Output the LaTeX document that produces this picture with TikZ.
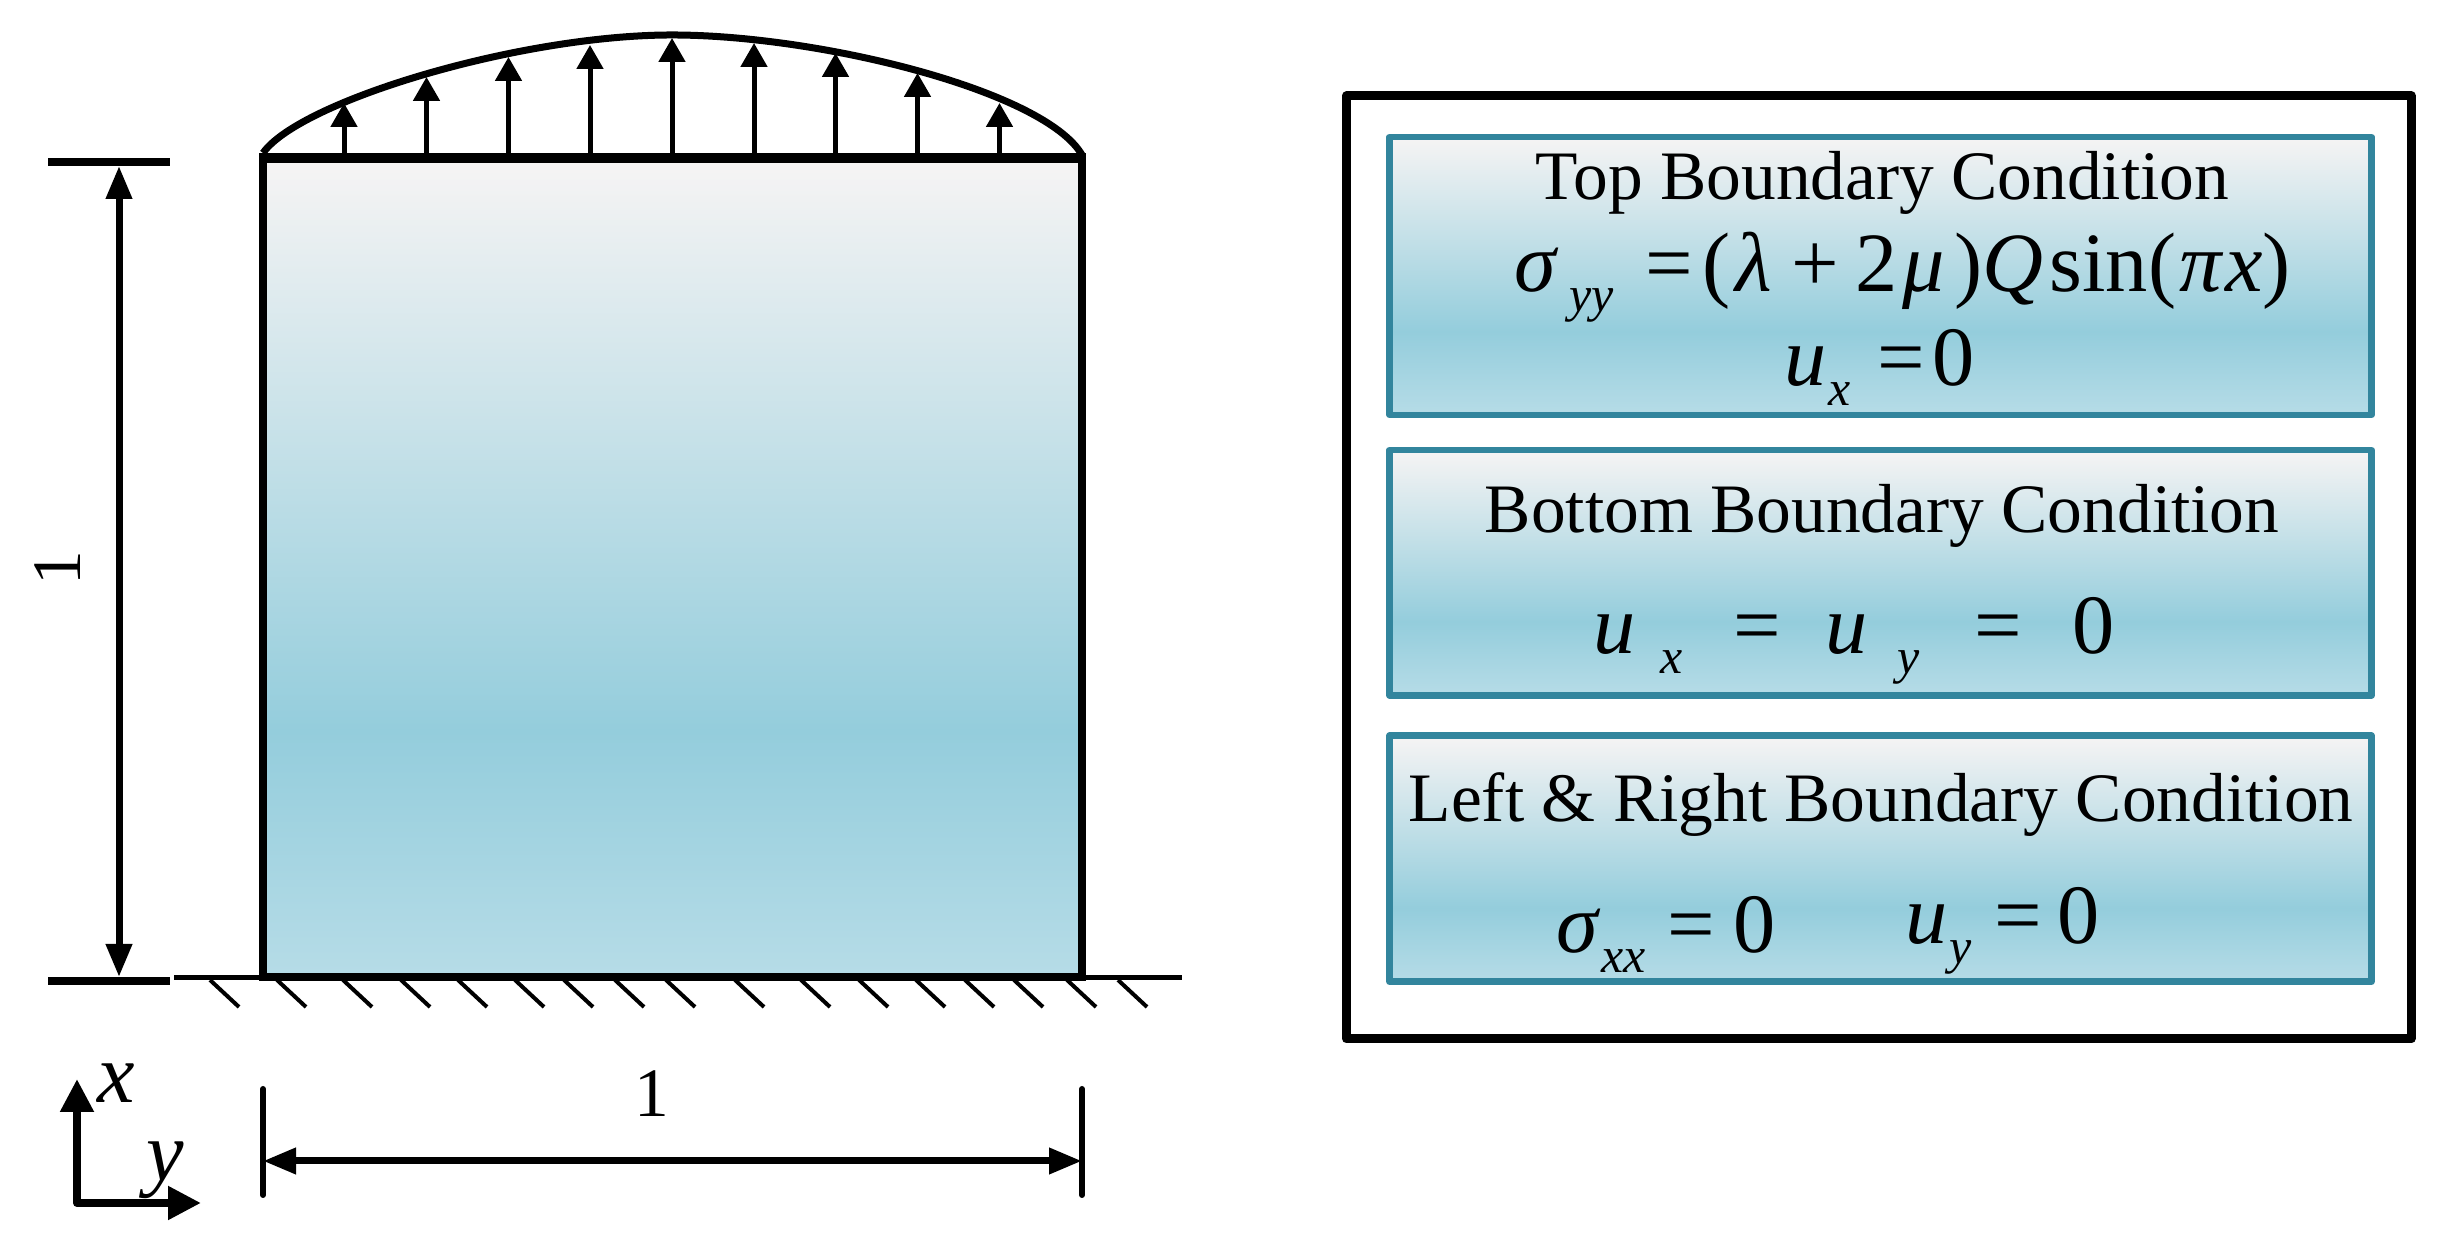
\documentclass[tikz,border=0pt]{standalone}
\usepackage{fontspec}
\setmainfont{Liberation Serif}
\usetikzlibrary{arrows.meta}
\definecolor{fadetop}{HTML}{F6F4F4}
\definecolor{fademid}{HTML}{94CDDC}
\definecolor{fadebot}{HTML}{B6DCE7}
\definecolor{panelline}{HTML}{32859D}
\pgfdeclareverticalshading{bluefade}{100bp}{color(0bp)=(fadebot); color(25bp)=(fadebot); color(40bp)=(fademid); color(75bp)=(fadetop); color(100bp)=(fadetop)}
\newcommand{\titlefont}{\fontsize{19.75}{22}\selectfont}
\newcommand{\eqfont}{\fontsize{24}{27}\selectfont}
\newcommand{\eqsub}[1]{\raisebox{-.2cm}{\fontsize{14.2}{16}\selectfont\itshape #1}}
\tikzset{panel/.style={draw=panelline,line width=.065cm,line join=round,shade,shading=bluefade},
    textlabel/.style={inner sep=0pt,anchor=base},
    eqlabel/.style={inner sep=0pt,anchor=base west,font=\eqfont},
    loadarrow/.style={line width=.05cm,-{Triangle[length=.24cm,width=.26cm]}},
    dimarrow/.style={line width=.07cm,{Triangle[length=.33cm,width=.25cm]}-{Triangle[length=.33cm,width=.25cm]}},
    axisarrow/.style={line width=.08cm,line join=round,{Triangle[length=.33cm,width=.32cm]}-{Triangle[length=.33cm,width=.32cm]}}}

\begin{document}
\begin{tikzpicture}
            \useasboundingbox (0, 0) rectangle (24.43, 12.51);
            % plate
            \draw[shade,shading=bluefade,line width=.08cm,line join=round] (2.63, 2.74) rectangle (10.82, 10.93);
            \draw[line width=.1cm] (2.59, 10.93) -- (10.86, 10.93);
            % load curve
            \draw[line width=.07cm] (2.63, 10.98) .. controls (3, 11.5) and (5.2, 12.16) .. (6.72, 12.16) .. controls (8.2, 12.16) and (10.45, 11.6) .. (10.82, 10.96);
            \foreach \x/\ytip in {3.44/11.48, 4.265/11.74, 5.085/11.94, 5.90/12.06, 6.72/12.13, 7.54/12.08, 8.355/11.98, 9.175/11.78, 9.995/11.48}
                \draw[loadarrow] (\x, 10.93) -- (\x, \ytip);
            % ground
            \draw[line width=.045cm] (1.74, 2.735) -- (11.82, 2.735);
            \draw[line width=.08cm] (2.59, 2.74) -- (10.86, 2.74);
            \foreach \h in {2.10, 2.77, 3.43, 4.01, 4.58, 5.15, 5.64, 6.15, 6.66, 7.35, 8.01, 8.59, 9.16, 9.65, 10.14, 10.67, 11.18}
                \draw[line width=.04cm] (\h, 2.71) -- ++(.29, -.27);
            % height
            \coordinate (heighttop) at (1.19, 10.85);
            \coordinate (heightbot) at (1.19, 2.74);
            \draw[line width=.08cm] (.48, 10.89) -- (1.70, 10.89);
            \draw[line width=.08cm] (.48, 2.70) -- (1.70, 2.70);
            \draw[dimarrow] (heighttop) -- (heightbot);
            \node[rotate=90,inner sep=0pt,font=\titlefont] (heightlabel) at (.58, 6.83) {1};
            % width
            \coordinate (widthleft) at (2.63, .90);
            \coordinate (widthright) at (10.82, .90);
            \draw[line width=.06cm,line cap=round] (2.63, 1.62) -- (2.63, .56);
            \draw[line width=.06cm,line cap=round] (10.82, 1.62) -- (10.82, .56);
            \draw[dimarrow] (widthleft) -- (widthright);
            \node[textlabel,font=\titlefont] (widthlabel) at (6.52, 1.34) {1};
            % axes
            \coordinate (axisx) at (.77, 1.72);
            \coordinate (axiso) at (.77, .48);
            \coordinate (axisy) at (2.01, .48);
            \draw[axisarrow] (axisx) -- (axiso) -- (axisy);
            \node[eqlabel,font=\eqfont\itshape] (xlabel) at (.97, 1.48) {x};
            \node[eqlabel,font=\eqfont\itshape] (ylabel) at (1.46, .70) {y};
            % frame
            \draw[line width=.09cm,line join=round] (13.465, 2.12) rectangle (24.11, 11.55);
            \draw[panel] (13.895, 8.36) rectangle (23.715, 11.14);
            \draw[panel] (13.895, 5.555) rectangle (23.715, 8.01);
            \draw[panel] (13.895, 2.693) rectangle (23.715, 5.153);
            % top
            \node[textlabel,font=\titlefont] (toptitle) at (18.825, 10.515) {Top Boundary Condition};
            \node[eqlabel] (topstress) at (15.14, 9.59) {\textit{σ}\hspace{.1cm}\eqsub{yy}\hspace{.32cm}=\hspace{.1cm}(\hspace{.05cm}\textit{λ}\hspace{.19cm}+\hspace{.16cm}2\hspace{.05cm}\textit{μ}\hspace{.1cm})\textit{Q}\hspace{.06cm}sin(\hspace{.03cm}\textit{π}\hspace{.02cm}\textit{x})};
            \node[eqlabel] (topdisp) at (17.84, 8.65) {\textit{u}\hspace{.02cm}\eqsub{x}\hspace{.26cm}=\hspace{.08cm}0};
            % bottom
            \node[textlabel,font=\titlefont] (bottomtitle) at (18.82, 7.18) {Bottom Boundary Condition};
            \node[eqlabel] (bottomdisp) at (15.93, 5.975) {\textit{u}\hspace{.25cm}\eqsub{x}\hspace{.5cm}=\hspace{.45cm}\textit{u}\hspace{.3cm}\eqsub{y}\hspace{.55cm}=\hspace{.5cm}0};
            % left and right
            \node[textlabel,font=\titlefont] (sidetitle) at (18.81, 4.29) {Left \& Right Boundary Condition};
            \node[eqlabel] (sidestress) at (15.56, 2.98) {\textit{σ}\eqsub{xx}\hspace{.22cm}=\hspace{.19cm}0};
            \node[eqlabel] (sidedisp) at (19.05, 3.07) {\textit{u}\hspace{.02cm}\eqsub{y}\hspace{.22cm}=\hspace{.16cm}0};
        \end{tikzpicture}
\end{document}
